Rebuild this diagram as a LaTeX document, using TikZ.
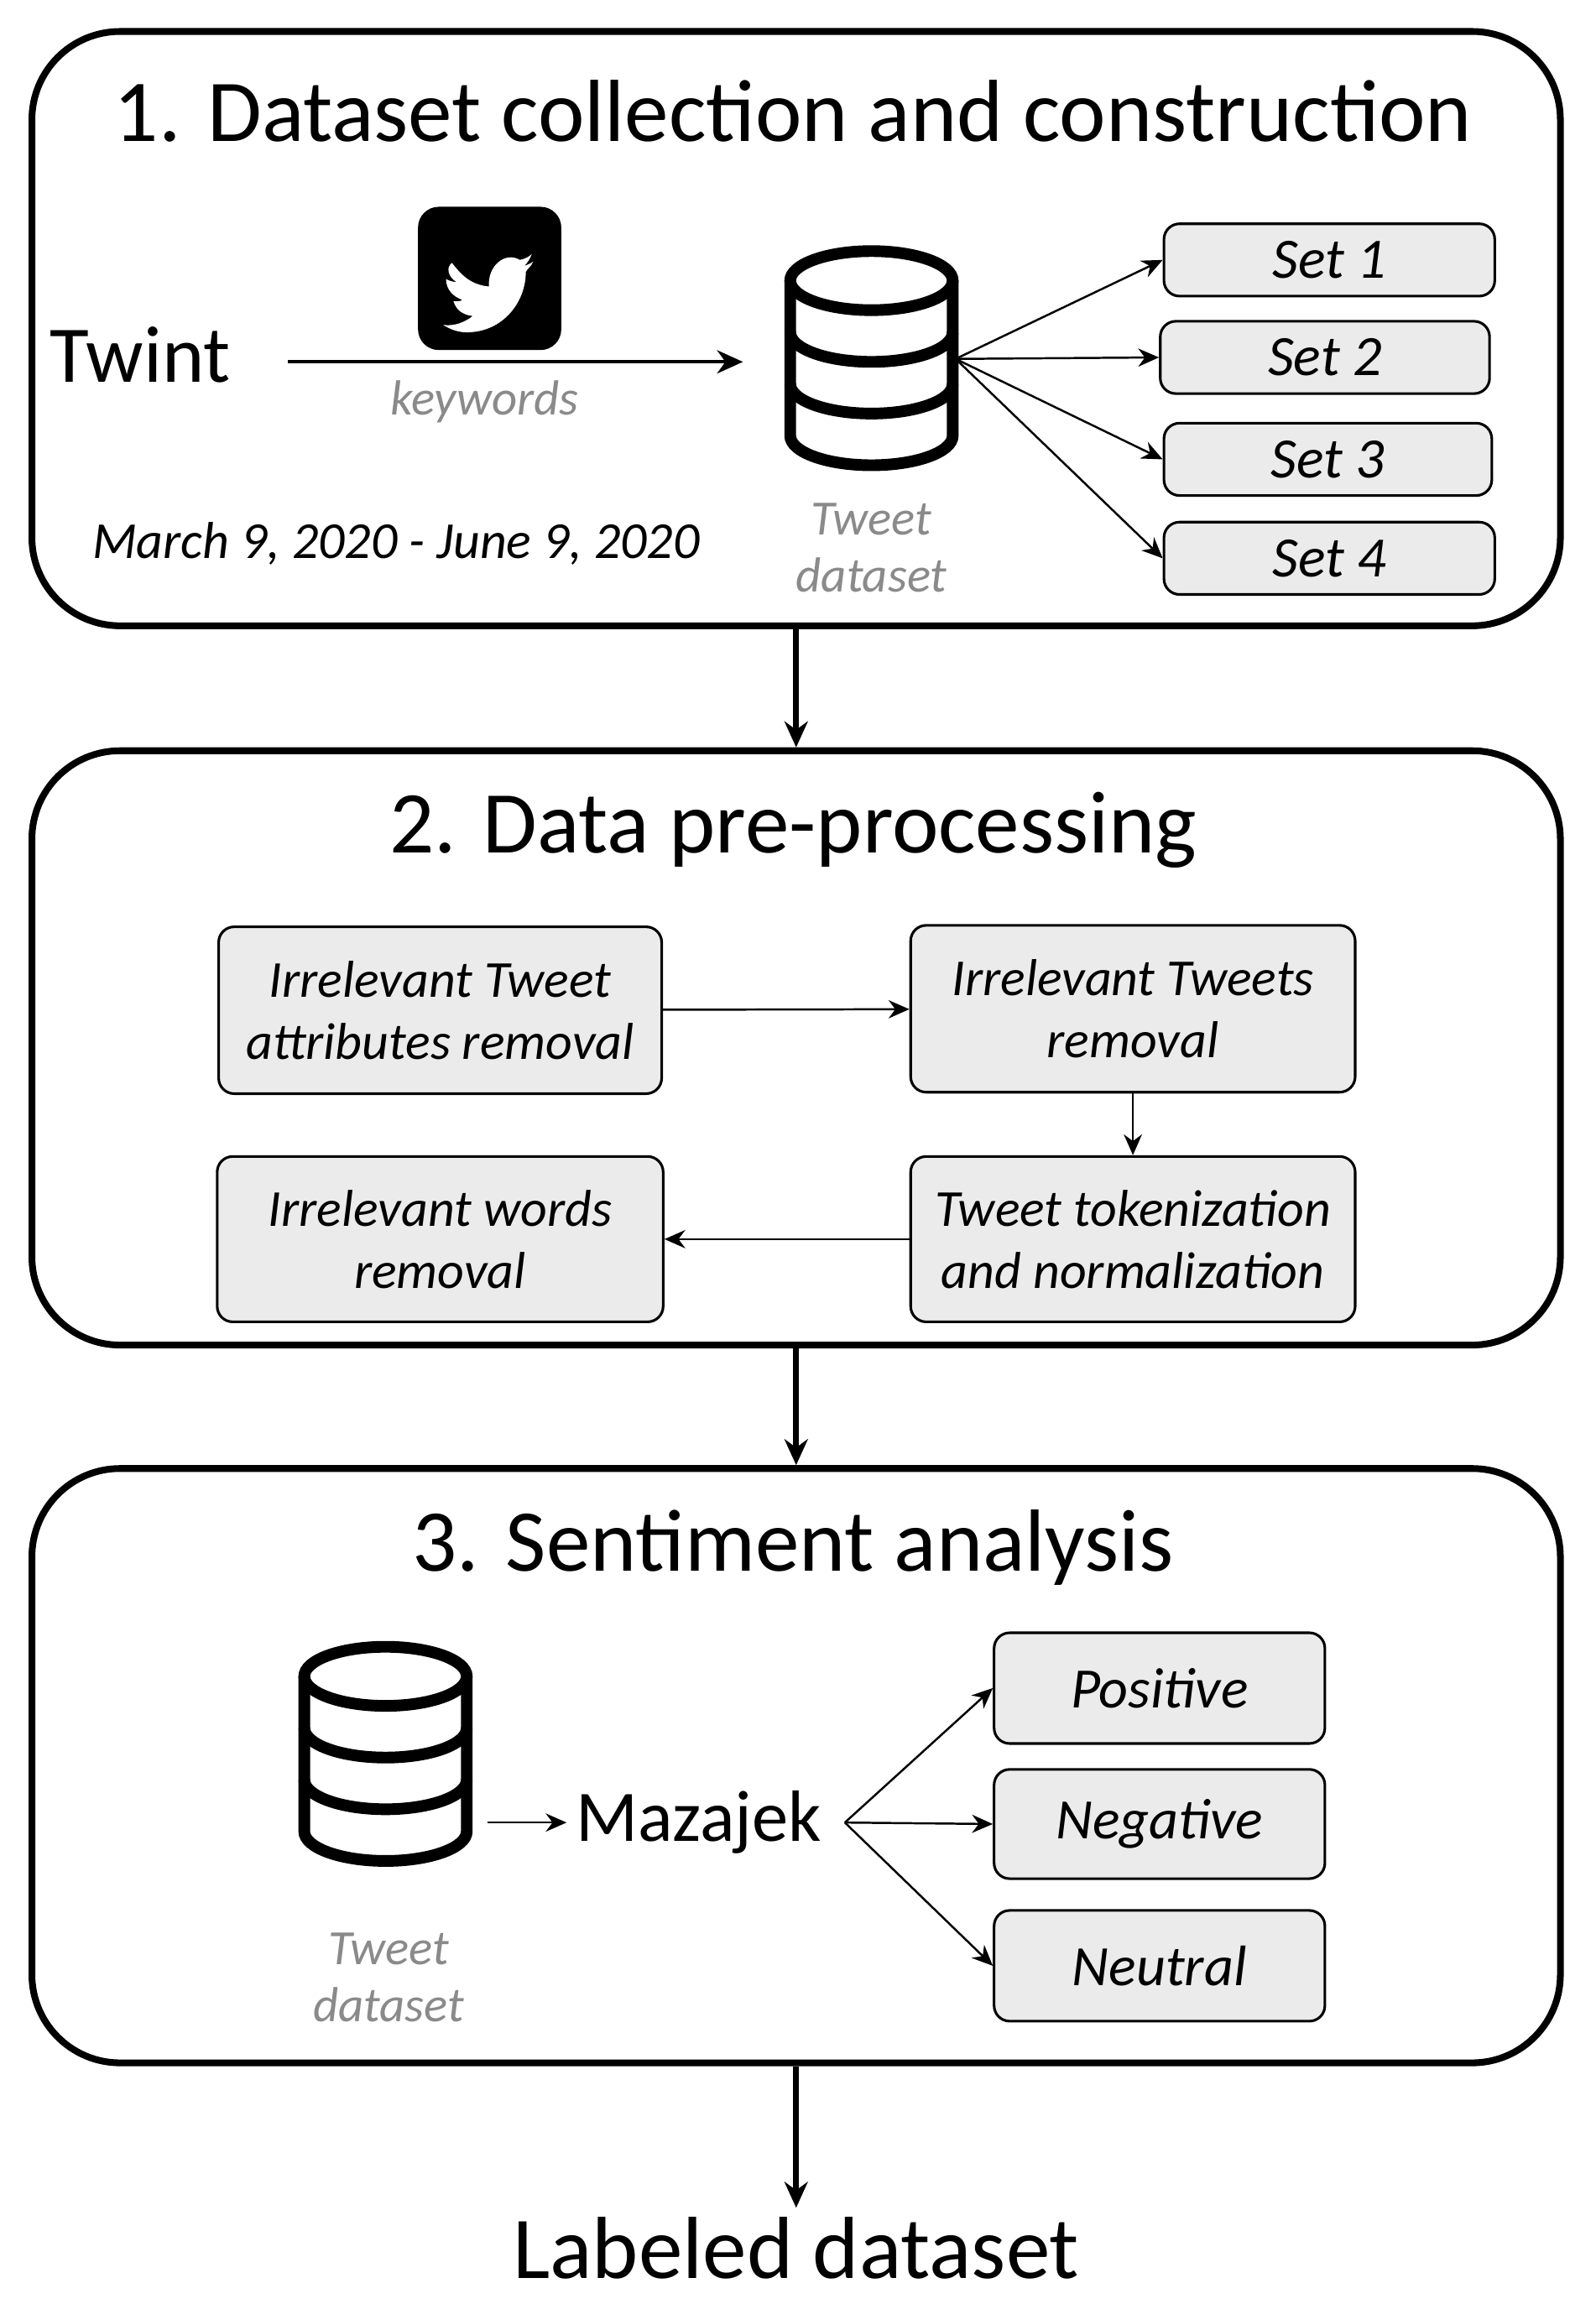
\documentclass[tikz,border=0pt]{standalone}
\usepackage{fontspec}
\setmainfont{Carlito}
\usetikzlibrary{arrows.meta}
\definecolor{boxgray}{HTML}{EBEBEB}
\definecolor{txtgray}{HTML}{8A8A8A}
\begin{document}
\begin{tikzpicture}[x=0.02cm,y=-0.02cm,
  frame/.style={draw,line width=2.6pt,rounded corners=34pt},
  stage/.style={font=\fontsize{34}{38}\selectfont},
  gbox/.style={draw,fill=boxgray,line width=1pt,rounded corners=6pt,align=center,font=\fontsize{20}{24}\selectfont\itshape},
  setbox/.style={gbox,minimum height=0.98cm,font=\fontsize{22}{26}\selectfont\itshape},
  big/.style={-{Stealth[length=10pt,width=9pt]},line width=2.2pt},
  thin/.style={-{Stealth[length=8pt,width=7pt]},line width=0.8pt},
  gtxt/.style={text=txtgray,font=\fontsize{19}{22}\selectfont\itshape,align=center},
  dbline/.style={line width=4.5pt}]
\useasboundingbox (0,0) rectangle (1080,1560);
% frames
\node[frame,minimum width=20.7cm,minimum height=8.05cm] (f1) at (539,222.5) {};
\node[frame,minimum width=20.7cm,minimum height=8.05cm] (f2) at (539,709.5) {};
\node[frame,minimum width=20.7cm,minimum height=8.05cm] (f3) at (539,1195.5) {};
\node[stage] (t1) at (537,75) {1. Dataset collection and construction};
\node[stage] (t2) at (537,562) {2. Data pre-processing};
\node[stage] (t3) at (537,1048) {3. Sentiment analysis};
\draw[big] (f1.south) -- (f2.north);
\draw[big] (f2.south) -- (f3.north);
\node[stage] (ld) at (539,1522) {Labeled dataset};
\draw[big] (f3.south) -- (ld.north);
% stage 1
\node[font=\fontsize{31}{36}\selectfont] (tw) at (95,240) {Twint};
\coordinate (a1s) at (195,245);
\coordinate (a1e) at (503,245);
\draw[-{Stealth[length=10pt,width=9pt]},line width=1.2pt] (a1s) -- (a1e);
\node[gtxt] (kw) at (328,272) {keywords};
\node[font=\fontsize{20}{23}\selectfont\itshape] (dt) at (268,368) {March 9, 2020 - June 9, 2020};
% twitter icon
\fill[rounded corners=8pt] (283,140) rectangle (380,237);
\fill[white] (306,178) .. controls (315,190) and (322,193) .. (331,194)
  .. controls (330,180) and (342,170) .. (352,176)
  .. controls (356,175) and (358,174) .. (360,172)
  .. controls (359,175) and (357,178) .. (355,180)
  .. controls (358,179) and (360,178) .. (361,177)
  .. controls (360,180) and (357,182) .. (356,184)
  .. controls (356,205) and (340,225) .. (316,225)
  .. controls (310,225) and (305,223) .. (300,220)
  .. controls (308,221) and (315,218) .. (320,214)
  .. controls (313,213) and (309,210) .. (307,204)
  .. controls (310,204) and (312,204) .. (313,203)
  .. controls (307,201) and (302,196) .. (302,189)
  .. controls (304,190) and (307,191) .. (309,191)
  .. controls (303,187) and (302,181) .. (306,178) -- cycle;
% database 1
\begin{scope}[shift={(590,0)}]
\draw[dbline] (0,190) ellipse [x radius=55, y radius=20];
\draw[dbline] (-55,190) -- (-55,295) arc[start angle=180,end angle=0,x radius=55,y radius=20] -- (55,190);
\draw[dbline] (-55,225) arc[start angle=180,end angle=0,x radius=55,y radius=20];
\draw[dbline] (-55,260) arc[start angle=180,end angle=0,x radius=55,y radius=20];
\end{scope}
\coordinate (db1r) at (647,243);
\node[gtxt] (td1) at (590,371) {Tweet\\dataset};
\node[setbox,minimum width=4.48cm] (s1) at (900,176) {Set 1};
\node[setbox,minimum width=4.46cm] (s2) at (897,242) {Set 2};
\node[setbox,minimum width=4.44cm] (s3) at (899,311) {Set 3};
\node[setbox,minimum width=4.48cm] (s4) at (900,378) {Set 4};
\foreach \s in {s1,s2,s3,s4} \draw[thin] (db1r) -- (\s.west);
% stage 2
\node[gbox,minimum width=6cm,minimum height=2.26cm] (A) at (298,684) {Irrelevant Tweet\\attributes removal};
\node[gbox,minimum width=6.02cm,minimum height=2.26cm] (B) at (767,683) {Irrelevant Tweets\\removal};
\node[gbox,minimum width=6.02cm,minimum height=2.24cm] (C) at (767,839) {Tweet tokenization\\and normalization};
\node[gbox,minimum width=6.04cm,minimum height=2.24cm] (D) at (298,839) {Irrelevant words\\removal};
\draw[thin] (A) -- (B);
\draw[thin] (B) -- (C);
\draw[thin] (C) -- (D);
% stage 3
\begin{scope}[shift={(261,945)}]
\draw[dbline] (0,190) ellipse [x radius=55, y radius=20];
\draw[dbline] (-55,190) -- (-55,295) arc[start angle=180,end angle=0,x radius=55,y radius=20] -- (55,190);
\draw[dbline] (-55,225) arc[start angle=180,end angle=0,x radius=55,y radius=20];
\draw[dbline] (-55,260) arc[start angle=180,end angle=0,x radius=55,y radius=20];
\end{scope}
\coordinate (db2r) at (330,1234);
\node[gtxt] (td2) at (263,1339) {Tweet\\dataset};
\node[font=\fontsize{28}{32}\selectfont] (mz) at (473,1234) {Mazajek};
\draw[thin] (db2r) -- (mz.west);
\coordinate (mzr) at (572,1234);
\node[setbox,minimum width=4.48cm,minimum height=1.5cm] (p) at (785,1143) {Positive};
\node[setbox,minimum width=4.48cm,minimum height=1.48cm] (n) at (785,1235) {Negative};
\node[setbox,minimum width=4.48cm,minimum height=1.5cm] (u) at (785,1331) {Neutral};
\foreach \s in {p,n,u} \draw[thin] (mzr) -- (\s.west);
\end{tikzpicture}
\end{document}
